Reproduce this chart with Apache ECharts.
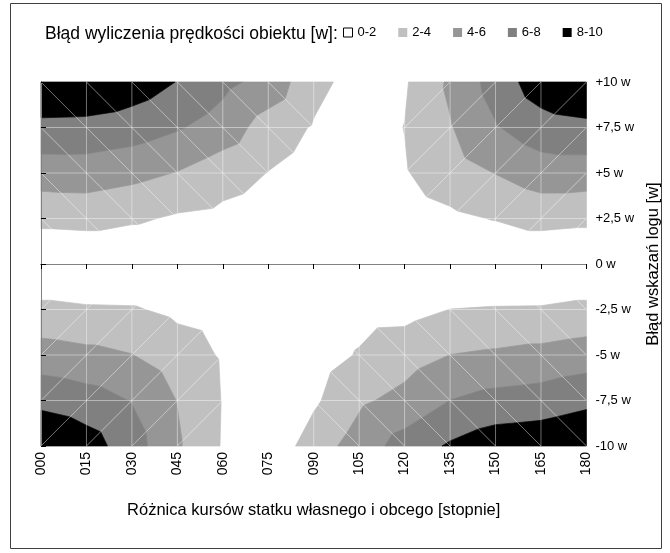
<!DOCTYPE html>
<html><head><meta charset="utf-8">
<script src="https://cdn.jsdelivr.net/npm/echarts@6/dist/echarts.min.js"></script>
<style>html,body{margin:0;padding:0;background:#fff}#c{width:670px;height:553px}</style>
</head><body><div id="c"></div><script>
// Course difference [deg] (columns) and log error [w] (rows)
const courseDiff = [0, 15, 30, 45, 60, 75, 90, 105, 120, 135, 150, 165, 180];
const logError = [10, 7.5, 5, 2.5, 0, -2.5, -5, -7.5, -10];
// Speed error [w] for each log error row, per course difference column
const err_p10  = [10.0, 9.87, 9.14, 7.94, 6.55, 5.28, 2.65, 1.15, 1.78, 4.34, 6.85, 9.12, 10.0];
const err_p7_5 = [7.46, 7.39, 7.00, 6.19, 5.10, 3.10, 1.83, 1.30, 2.03, 3.86, 5.85, 7.16, 7.50];
const err_p5   = [4.95, 5.00, 4.58, 3.92, 2.88, 1.95, 1.10, 1.00, 1.85, 3.09, 4.05, 5.00, 5.00];
const err_p2_5 = [2.58, 2.73, 2.31, 1.74, 1.45, 0.95, 0.50, 0.60, 1.00, 1.60, 2.10, 2.73, 2.50];
const err_0    = [0, 0, 0, 0, 0, 0, 0, 0, 0, 0, 0, 0, 0];
const err_m2_5 = [2.51, 2.24, 2.18, 1.58, 1.20, 0.50, 0.60, 1.25, 1.34, 2.02, 2.15, 2.18, 2.51];
const err_m5   = [4.89, 4.51, 4.05, 2.93, 1.81, 0.60, 1.00, 2.16, 3.11, 4.02, 4.30, 4.60, 5.00];
const err_m7_5 = [7.45, 6.87, 5.92, 3.95, 1.91, 0.60, 1.67, 3.67, 4.61, 6.02, 6.65, 6.90, 7.50];
const err_m10  = [10.0, 8.94, 6.91, 4.25, 1.85, 0.50, 3.00, 4.90, 6.85, 8.25, 9.19, 9.42, 10.0];
const xTickLabels = ['000','015','030','045','060','075','090','105','120','135','150','165','180'];
const yTickLabels = ['-10 w','-7,5 w','-5 w','-2,5 w','0 w','+2,5 w','+5 w','+7,5 w','+10 w'];
const bandNames = ['0-2', '2-4', '4-6', '6-8', '8-10'];
const bandLimits = [0, 2, 4, 6, 8, 10];
const bandColors = ['#ffffff', '#c0c0c0', '#969696', '#808080', '#000000'];

const grid = [err_p10, err_p7_5, err_p5, err_p2_5, err_0, err_m2_5, err_m5, err_m7_5, err_m10];
const nCols = courseDiff.length, nRows = logError.length;
const cells = [];
for (let j = 0; j < nRows - 1; j++) for (let i = 0; i < nCols - 1; i++) cells.push([i, j]);

function node(i, j) { return [courseDiff[i], logError[j], grid[j][i]]; }
function cellTriangles(i, j) {
  const tl = node(i, j), tr = node(i + 1, j), bl = node(i, j + 1), br = node(i + 1, j + 1);
  const back = (i < (nCols - 1) / 2) !== (j < (nRows - 1) / 2); // '/' diagonal
  return back ? [[bl, tr, tl], [bl, tr, br]] : [[tl, br, tr], [tl, br, bl]];
}
function clip(poly, level, keepAbove) {
  const out = [];
  for (let k = 0; k < poly.length; k++) {
    const P = poly[k], Q = poly[(k + 1) % poly.length];
    const pin = keepAbove ? P[2] >= level : P[2] <= level;
    const qin = keepAbove ? Q[2] >= level : Q[2] <= level;
    if (pin !== qin) {
      const t = (level - P[2]) / (Q[2] - P[2]);
      out.push([P[0] + t * (Q[0] - P[0]), P[1] + t * (Q[1] - P[1]), level]);
    }
    if (qin) out.push(Q);
  }
  return out;
}
function bandRender(b) {
  const lo = b === 0 ? -Infinity : bandLimits[b];
  const hi = b === bandNames.length - 1 ? Infinity : bandLimits[b + 1];
  return function (params, api) {
    const i = api.value(0), j = api.value(1);
    const children = [];
    cellTriangles(i, j).forEach(tri => {
      let p = tri;
      if (lo > -Infinity) p = clip(p, lo, true);
      if (p.length && hi < Infinity) p = clip(p, hi, false);
      if (p.length >= 3) {
        children.push({
          type: 'polygon',
          shape: { points: p.map(v => api.coord([v[0], v[1]])) },
          style: { fill: bandColors[b], stroke: bandColors[b], lineWidth: 0.7 }
        });
      }
    });
    return { type: 'group', children };
  };
}
function wireRender(params, api) {
  const i = api.value(0), j = api.value(1);
  const c = (a, b) => api.coord([courseDiff[a], logError[b]]);
  const tris = cellTriangles(i, j);
  const st = { stroke: 'rgba(255,255,255,0.42)', lineWidth: 1 };
  const seg = (p, q) => ({ type: 'line', shape: { x1: p[0], y1: p[1], x2: q[0], y2: q[1] }, style: st });
  const ch = [];
  const d0 = api.coord([tris[0][0][0], tris[0][0][1]]), d1 = api.coord([tris[0][1][0], tris[0][1][1]]);
  ch.push(seg(d0, d1));
  if (j > 0) ch.push(seg(c(i, j), c(i + 1, j)));
  if (i > 0) ch.push(seg(c(i, j), c(i, j + 1)));
  return { type: 'group', children: ch };
}

const series = bandNames.map((n, b) => ({
  name: n, type: 'custom', data: cells, renderItem: bandRender(b),
  itemStyle: { color: bandColors[b] }, silent: true, animation: false, z: 2
}));
series.push({ type: 'custom', data: cells, renderItem: wireRender, silent: true, animation: false, z: 5 });

const font = 'Liberation Sans, Arial, sans-serif';
const chart = echarts.init(document.getElementById('c'), null, { renderer: 'canvas' });
chart.setOption({
  animation: false,
  backgroundColor: '#fff',
  graphic: [{ type: 'rect', shape: { x: 10.5, y: 3.5, width: 651, height: 545 },
    style: { fill: 'none', stroke: '#404040', lineWidth: 1 }, z: 0, silent: true }],
  title: { text: 'Błąd wyliczenia prędkości obiektu [w]:', left: 40, top: 20,
    textStyle: { fontFamily: font, fontSize: 17.5, fontWeight: 'normal', color: '#000' } },
  legend: {
    left: 338, top: 21, itemWidth: 9, itemHeight: 9, itemGap: 22, icon: 'rect',
    textStyle: { fontFamily: font, fontSize: 13, color: '#000' },
    data: bandNames.map((n, b) => ({ name: n, itemStyle: b === 0 ? { color: '#fff', borderColor: '#000', borderWidth: 1 } : { color: bandColors[b] } }))
  },
  grid: { left: 41, top: 82, right: 80, bottom: 107 },
  xAxis: [{
    type: 'value', min: 0, max: 180, interval: 15, position: 'bottom',
    name: 'Różnica kursów statku własnego i obcego [stopnie]', nameLocation: 'middle', nameGap: 56,
    nameTextStyle: { fontFamily: font, fontSize: 16.5, color: '#000' },
    axisLine: { lineStyle: { color: '#000' } }, axisTick: { length: 5, lineStyle: { color: '#000' } },
    axisLabel: { rotate: 90, margin: 6, fontFamily: font, fontSize: 14, color: '#000',
      formatter: v => xTickLabels[courseDiff.indexOf(v)] },
    splitLine: { show: false }, z: 10
  }, {
    type: 'value', min: 0, max: 180, position: 'top', axisLine: { lineStyle: { color: '#808080' } },
    axisTick: { show: false }, axisLabel: { show: false }, splitLine: { show: false }, z: 10
  }],
  yAxis: [{
    type: 'value', min: -10, max: 10, interval: 2.5, position: 'right',
    name: 'Błąd wskazań logu [w]', nameLocation: 'middle', nameRotate: 90, nameGap: 52,
    nameTextStyle: { fontFamily: font, fontSize: 16.5, color: '#000' },
    axisLine: { show: true, lineStyle: { color: '#000' } }, axisTick: { show: true, length: 5, lineStyle: { color: '#000' } },
    axisLabel: { margin: 9, fontFamily: font, fontSize: 13, color: '#000',
      formatter: v => yTickLabels[logError.length - 1 - logError.indexOf(v)] },
    splitLine: { show: false }, z: 10
  }, {
    type: 'value', min: -10, max: 10, position: 'left', axisLine: { show: true, lineStyle: { color: '#808080' } },
    axisTick: { show: false }, axisLabel: { show: false }, splitLine: { show: false }, z: 10
  }],
  series
});
</script></body></html>
